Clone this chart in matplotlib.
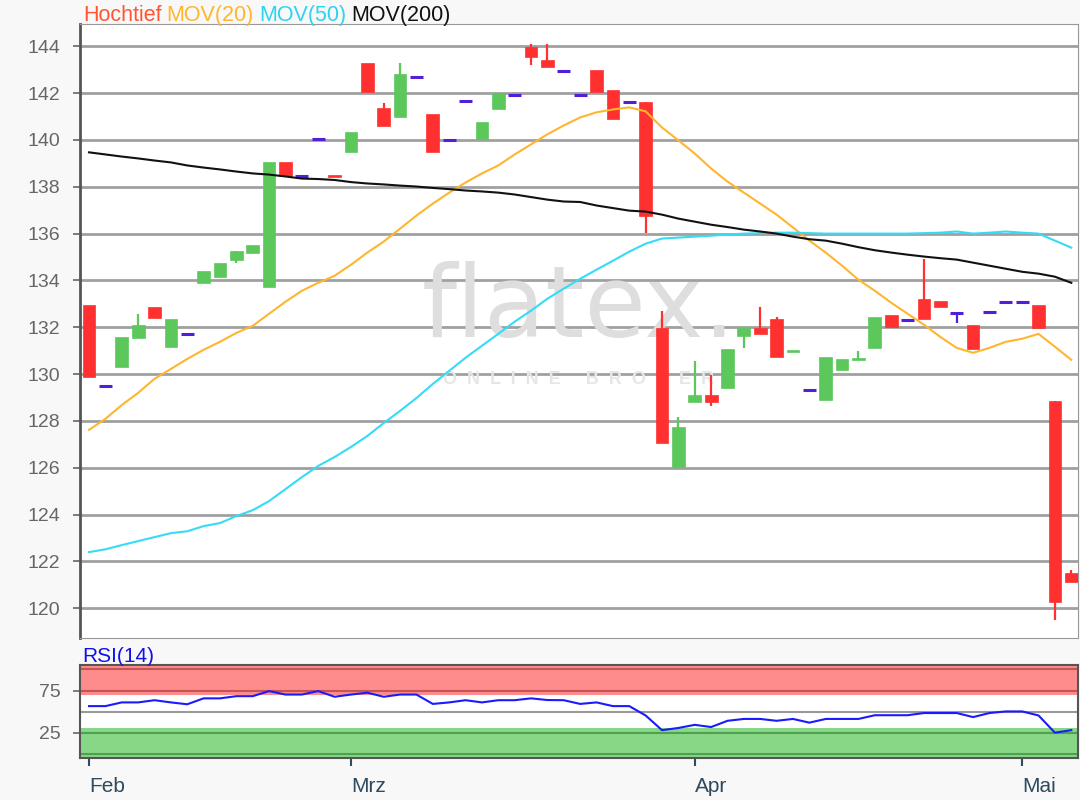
import numpy as np
import pandas as pd
import matplotlib
matplotlib.use("Agg")
import matplotlib.pyplot as plt

plt.rcParams['font.family'] = ['Liberation Sans', 'DejaVu Sans']

# trading days (Xetra), Feb 7 - May 7
holidays = ["2019-04-19", "2019-04-22", "2019-05-01"]
dates = pd.bdate_range("2019-02-07", "2019-05-07")
dates = dates[~dates.isin(pd.to_datetime(holidays))]
month_names = {2: "Feb", 3: "Mrz", 4: "Apr", 5: "Mai"}

opens = [132.96, 129.5, 130.31, 131.55, 132.88, 131.17, 131.72, 133.9, 134.16, 134.89,
         135.19, 133.73, 139.04, 138.44, 140.06, 138.52, 139.47, 143.27, 141.35, 141.0,
         142.67, 141.09, 139.98, 141.65, 140.02, 141.3, 141.9, 143.96, 143.4, 142.93,
         141.9, 142.97, 142.12, 141.6, 141.6, 131.98, 126.03, 128.81, 129.11, 129.41,
         131.64, 131.98, 132.36, 130.95, 129.33, 128.9, 130.18, 130.61, 131.12, 132.53,
         132.32, 133.22, 133.13, 132.62, 132.11, 132.66, 133.09, 133.09, 132.96, 128.86,
         121.5]
highs = [132.96, 129.5, 131.6, 132.58, 132.88, 132.36, 131.72, 134.42, 134.76, 135.27,
         135.53, 139.04, 139.04, 138.44, 140.06, 138.52, 140.32, 143.27, 141.56, 143.27,
         142.67, 141.09, 139.98, 141.65, 140.75, 141.99, 141.9, 144.09, 144.09, 142.93,
         141.9, 142.97, 142.12, 141.6, 141.6, 132.71, 128.17, 130.57, 129.97, 131.08,
         131.98, 132.88, 132.45, 131.03, 129.33, 130.74, 130.65, 130.99, 132.45, 132.53,
         132.32, 134.93, 133.13, 132.62, 132.11, 132.66, 133.09, 133.09, 132.96, 128.86,
         121.63]
lows = [129.88, 129.5, 130.31, 131.55, 132.41, 131.17, 131.72, 133.9, 134.16, 134.76,
        135.19, 133.73, 138.44, 138.44, 140.06, 138.4, 139.47, 142.03, 140.58, 141.0,
        142.67, 139.47, 139.98, 141.65, 140.02, 141.3, 141.9, 143.19, 143.1, 142.93,
        141.9, 142.03, 140.88, 141.6, 136.04, 127.06, 126.03, 128.81, 128.64, 129.41,
        131.12, 131.72, 130.74, 130.95, 129.33, 128.9, 130.18, 130.61, 131.12, 132.02,
        132.32, 132.36, 132.88, 132.19, 131.08, 132.66, 133.09, 133.09, 131.98, 119.49,
        121.11]
closes = [129.88, 129.5, 131.6, 132.11, 132.41, 132.36, 131.72, 134.42, 134.76, 135.27,
          135.53, 139.04, 138.44, 138.44, 140.06, 138.4, 140.32, 142.03, 140.58, 142.8,
          142.67, 139.47, 139.98, 141.65, 140.75, 141.99, 141.9, 143.53, 143.1, 142.93,
          141.9, 142.03, 140.88, 141.6, 136.77, 127.06, 127.74, 129.11, 128.81, 131.08,
          131.98, 131.72, 130.74, 131.03, 129.33, 130.74, 130.65, 130.7, 132.45, 132.02,
          132.32, 132.36, 132.88, 132.62, 131.08, 132.66, 133.09, 133.09, 131.98, 120.26,
          121.11]

mov20 = [127.62, 128.09, 128.68, 129.2, 129.8, 130.22, 130.65, 131.04, 131.38, 131.76,
         132.06, 132.58, 133.09, 133.56, 133.9, 134.2, 134.67, 135.19, 135.66, 136.21,
         136.77, 137.28, 137.75, 138.18, 138.57, 138.91, 139.38, 139.81, 140.24, 140.62,
         140.96, 141.18, 141.3, 141.39, 141.22, 140.53, 139.98, 139.42, 138.78, 138.22,
         137.75, 137.28, 136.81, 136.26, 135.7, 135.19, 134.63, 134.03, 133.56, 133.05,
         132.58, 132.11, 131.59, 131.12, 130.91, 131.12, 131.38, 131.51, 131.72, 131.17,
         130.61]
mov50 = [122.4, 122.52, 122.7, 122.87, 123.04, 123.21, 123.29, 123.51, 123.64, 123.94,
         124.19, 124.58, 125.09, 125.6, 126.08, 126.46, 126.89, 127.36, 127.91, 128.43,
         128.98, 129.58, 130.14, 130.7, 131.21, 131.72, 132.24, 132.71, 133.22, 133.65,
         134.07, 134.46, 134.84, 135.23, 135.57, 135.79, 135.83, 135.87, 135.91, 135.96,
         136.0, 136.02, 136.04, 136.04, 136.02, 136.0, 136.0, 136.0, 136.0, 136.0,
         136.0, 136.02, 136.04, 136.09, 136.0, 136.04, 136.09, 136.04, 136.0, 135.7,
         135.4]
mov200 = [139.47, 139.38, 139.29, 139.21, 139.12, 139.04, 138.91, 138.82, 138.74, 138.65,
          138.57, 138.52, 138.44, 138.35, 138.33, 138.29, 138.2, 138.14, 138.1, 138.05,
          138.01, 137.95, 137.9, 137.84, 137.8, 137.75, 137.67, 137.56, 137.45, 137.37,
          137.35, 137.2, 137.09, 136.98, 136.94, 136.81, 136.64, 136.51, 136.38, 136.28,
          136.17, 136.09, 136.0, 135.87, 135.76, 135.7, 135.57, 135.42, 135.29, 135.19,
          135.1, 135.02, 134.95, 134.89, 134.76, 134.63, 134.5, 134.37, 134.29, 134.16,
          133.9]
rsi = [56.5, 56.5, 60.9, 60.9, 63.5, 60.9, 58.7, 65.7, 65.7, 68.3,
       68.3, 74.3, 70.2, 70.2, 74.3, 67.6, 70.2, 72.4, 67.6, 70.2,
       70.2, 59.1, 60.9, 63.5, 60.9, 63.5, 63.5, 65.7, 63.7, 63.5,
       59.1, 60.9, 56.5, 56.5, 45.4, 28.0, 30.6, 34.3, 31.7, 39.1,
       41.3, 41.3, 39.1, 41.3, 36.9, 41.3, 41.3, 41.3, 45.7, 45.7,
       45.7, 48.3, 48.3, 48.3, 43.5, 48.3, 50.2, 50.2, 45.4, 25.0,
       28.0]

UP = "#5cc85c"
DOWN = "#ff3030"
DOJI = "#5020d8"

fig = plt.figure(figsize=(10.8, 8), dpi=100, facecolor="#f8f8f8")
ax = fig.add_axes([0.0741, 0.203, 0.9239, 0.767])
ax2 = fig.add_axes([0.0741, 0.0525, 0.9239, 0.116])

x = np.arange(len(dates))
w = 0.78
for i in x:
    o, h, l, c = opens[i], highs[i], lows[i], closes[i]
    if o == c:
        col = DOJI
        ax.hlines(o, i - w / 2, i + w / 2, color=col, lw=2.2, zorder=4)
    else:
        col = UP if c > o else DOWN
        ax.bar(i, abs(c - o), bottom=min(o, c), width=w, color=col,
               edgecolor=col, lw=0.5, zorder=4)
    if h > max(o, c) or l < min(o, c):
        ax.vlines(i, l, h, color=col, lw=1.6, zorder=3)

ax.plot(x, mov20, color="#ffb52e", lw=1.5, zorder=5)
ax.plot(x, mov50, color="#35dcf5", lw=1.5, zorder=5)
ax.plot(x, mov200, color="#111111", lw=1.5, zorder=5)

ax.set_xlim(-0.55, 60.4)
ax.set_ylim(118.75, 144.95)
ax.set_yticks(np.arange(120, 145, 2))
ax.set_xticks([])
ax.grid(axis="y", color="#a0a0a0", lw=2)
ax.set_axisbelow(True)
ax.tick_params(axis="y", colors="#666666", labelsize=14, length=5, width=1.2, pad=9)
for sp in ["top", "right", "bottom"]:
    ax.spines[sp].set_color("#999999")
ax.spines["left"].set_color("#555555")
ax.spines["left"].set_linewidth(2)

# watermark
ax.text(0.5, 0.535, "flatex.", transform=ax.transAxes, ha="center", va="center",
        fontsize=72, color="#dedede", family="DejaVu Sans", zorder=1)
ax.text(0.5, 0.42, "O  N  L  I  N  E     B  R  O  K  E  R", transform=ax.transAxes,
        ha="center", va="center", fontsize=13, fontweight="bold", color="#e6e6e6", zorder=1)

# legend line on top
fig.canvas.draw()
xpos = 83
for label, col in [("Hochtief", "#ff5533"), ("MOV(20)", "#ffb52e"),
                   ("MOV(50)", "#2ed3f0"), ("MOV(200)", "#111111")]:
    t = fig.text(xpos / 1080, 1 - 21 / 800, label, color=col, fontsize=15.5, va="baseline")
    bb = t.get_window_extent(renderer=fig.canvas.get_renderer())
    xpos = bb.x1 + 5

# RSI panel
ax2.plot(x, rsi, color="#1a1aff", lw=1.5, zorder=5)
for lev in [0, 25, 50, 75, 100]:
    ax2.axhline(lev, color="#999999", lw=1.5, zorder=1)
ax2.axhspan(70, 105, color="#ff0000", alpha=0.45, lw=0, zorder=2)
ax2.axhspan(-5, 30, color="#00aa00", alpha=0.47, lw=0, zorder=2)
ax2.set_xlim(-0.55, 60.4)
ax2.set_ylim(-5, 105)
ax2.set_yticks([25, 75])
ticks = [i for i in range(len(dates)) if i == 0 or dates[i].month != dates[i - 1].month]
ax2.set_xticks(ticks)
ax2.set_xticklabels([month_names[dates[i].month] for i in ticks], ha="left")
ax2.tick_params(axis="y", colors="#666666", labelsize=14, length=5, width=1.2, pad=9)
ax2.tick_params(axis="x", colors="#2e4a5e", labelsize=15, length=6, width=1.5, pad=8)
for sp in ax2.spines.values():
    sp.set_color("#555555")
    sp.set_linewidth(1.5)
fig.text(82 / 1080, 1 - 662 / 800, "RSI(14)", color="#1010ee", fontsize=15, va="baseline")

fig.savefig("out.png", dpi=100, facecolor=fig.get_facecolor())
